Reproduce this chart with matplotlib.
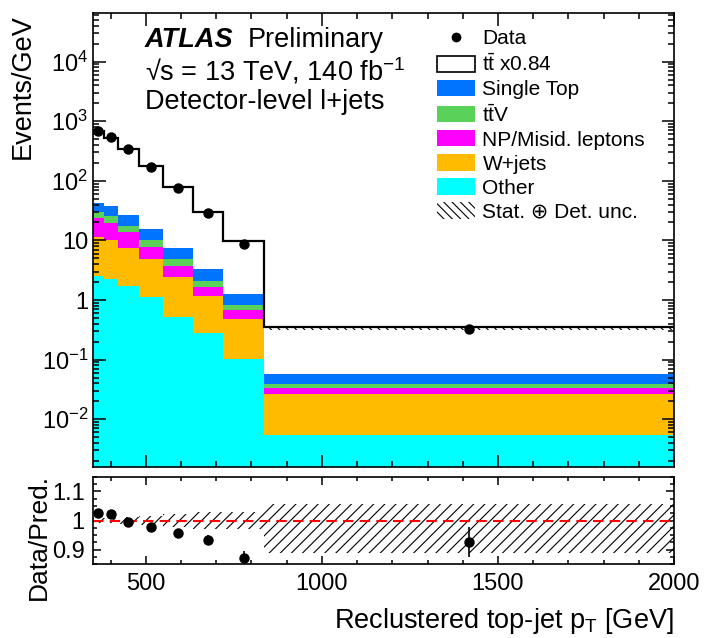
import matplotlib
matplotlib.use("Agg")
import matplotlib.pyplot as plt
import numpy as np
from matplotlib.patches import Patch
from matplotlib.lines import Line2D
from matplotlib.ticker import FixedLocator, FixedFormatter, MultipleLocator, LogLocator, NullFormatter

plt.rcParams['font.family'] = ['Liberation Sans', 'DejaVu Sans']
plt.rcParams['mathtext.fontset'] = 'custom'
plt.rcParams['mathtext.rm'] = 'Liberation Sans'
plt.rcParams['mathtext.it'] = 'Liberation Sans:italic'
plt.rcParams['mathtext.bf'] = 'Liberation Sans:bold'
plt.rcParams['hatch.linewidth'] = 0.8

# bin edges in GeV
edges = np.array([350, 380, 420, 480, 550, 635, 720, 835, 2000])

# stacked components (Events/GeV)
other = np.array([2.52, 2.22, 1.71, 1.13, 0.52, 0.275, 0.104, 0.0054])
wjets = np.array([8.98, 7.88, 5.74, 3.68, 1.93, 0.885, 0.374, 0.0209])
npmis = np.array([12.0, 9.7, 6.55, 3.01, 1.26, 0.51, 0.198, 0.0065])
ttv = np.array([6.8, 5.8, 3.4, 2.28, 1.10, 0.43, 0.144, 0.0059])
stop = np.array([12.6, 12.1, 9.3, 5.2, 2.54, 1.17, 0.44, 0.0198])
ttbar = np.array([629, 488, 311, 162, 70.6, 27.2, 8.5, 0.29])

data = np.array([685, 537, 338, 173, 74.8, 28.5, 8.6, 0.324])

# ratio panel
ratio = np.array([1.027, 1.022, 0.995, 0.978, 0.958, 0.933, 0.870, 0.927])
ratio_err = np.array([0.004, 0.004, 0.004, 0.005, 0.008, 0.016, 0.025, 0.051])
unc_up = np.array([0.010, 0.010, 0.012, 0.014, 0.023, 0.028, 0.030, 0.057])
unc_down = np.array([0.010, 0.010, 0.012, 0.014, 0.023, 0.028, 0.030, 0.110])

c_other = '#00FFFF'
c_wjets = '#FFBB00'
c_np = '#FF00FF'
c_ttv = '#5AD25A'
c_stop = '#0073FF'

centers = 0.5 * (edges[:-1] + edges[1:])

fig = plt.figure(figsize=(7.06, 6.38), dpi=100)
ax = fig.add_axes([93/706, 1-466.7/638, 581/706, 454/638])
rax = fig.add_axes([93/706, 1-564.3/638, 581/706, 87.6/638])

layers = [(other, c_other), (wjets, c_wjets), (npmis, c_np), (ttv, c_ttv), (stop, c_stop), (ttbar, 'white')]
base = np.full(len(other), 1e-5)
for vals, col in layers:
    top = base + vals
    ax.stairs(top, edges, baseline=base, fill=True, color=col)
    base = top
total = base
ax.stairs(total*(1+unc_up), edges, baseline=total*(1-unc_down), fill=True,
          facecolor='none', edgecolor='black', linewidth=0, hatch='\\\\\\\\')
ax.stairs(total, edges, baseline=None, color='black', linewidth=1.6)

data_err = data * ratio_err / ratio
ax.errorbar(centers, data, yerr=data_err, fmt='o', color='black', ms=6.5, elinewidth=1.2, capsize=0, zorder=5)

ax.set_yscale('log')
ax.set_xlim(350, 2000)
ax.set_ylim(1.6e-3, 6.6e4)
ax.yaxis.set_major_locator(FixedLocator([1e-2, 1e-1, 1, 10, 1e2, 1e3, 1e4]))
ax.yaxis.set_major_formatter(FixedFormatter([r'10$^{-2}$', r'10$^{-1}$', '1', '10', r'10$^{2}$', r'10$^{3}$', r'10$^{4}$']))
ax.yaxis.set_minor_locator(LogLocator(base=10, subs=np.arange(2, 10), numticks=30))
ax.yaxis.set_minor_formatter(NullFormatter())
ax.xaxis.set_major_locator(MultipleLocator(500))
ax.xaxis.set_minor_locator(MultipleLocator(100))
ax.tick_params(which='both', direction='in', top=True, right=True, labelbottom=False, labelsize=17, width=1.1)
ax.tick_params(which='major', length=9)
ax.tick_params(which='minor', length=4.5)
for s in ax.spines.values():
    s.set_linewidth(1.2)
fig.text(23/706, 1-14/638, 'Events/GeV', fontsize=19.5, rotation=90, ha='center', va='top')

fig.text(145/706, 1-40/638, 'ATLAS', fontsize=19.5, fontweight='bold', fontstyle='italic', va='center')
fig.text(248/706, 1-40/638, 'Preliminary', fontsize=19.5, va='center')
fig.text(145/706, 1-71/638, '\u221as = 13 TeV, 140 fb$^{-1}$', fontsize=19.5, va='center')
fig.text(145/706, 1-102/638, 'Detector-level l+jets', fontsize=19.5, va='center')

handles = [
    Line2D([], [], marker='o', color='black', linestyle='none', ms=6),
    Patch(facecolor='white', edgecolor='black', linewidth=1.2),
    Patch(facecolor=c_stop),
    Patch(facecolor=c_ttv),
    Patch(facecolor=c_np),
    Patch(facecolor=c_wjets),
    Patch(facecolor=c_other),
    Patch(facecolor='none', edgecolor='black', linewidth=0, hatch='\\\\\\\\'),
]
labels = ['Data', r'$\mathrm{t\bar{t}}$ x0.84', 'Single Top', r'$\mathrm{t\bar{t}}$V',
          'NP/Misid. leptons', 'W+jets', 'Other', 'Stat. \u2295 Det. unc.']
fig.legend(handles, labels, loc='upper left', bbox_to_anchor=(437/706, 1-29/638), frameon=False,
           fontsize=15, handlelength=1.83, handleheight=0.82, handletextpad=0.35,
           labelspacing=0.225, borderpad=0, borderaxespad=0)

# ratio panel
rax.stairs(1+unc_up, edges, baseline=1-unc_down, fill=True, facecolor='none',
           edgecolor='black', linewidth=0, hatch='///')
rax.axhline(1.0, color='red', linestyle=(0, (5, 3)), linewidth=1.5)
rax.errorbar(centers, ratio, yerr=ratio_err, fmt='o', color='black', ms=6.5, elinewidth=1.2, capsize=0, zorder=5)
rax.set_xlim(350, 2000)
rax.set_ylim(0.85, 1.15)
rax.yaxis.set_major_locator(FixedLocator([0.9, 1.0, 1.1]))
rax.yaxis.set_major_formatter(FixedFormatter(['0.9', '1', '1.1']))
rax.yaxis.set_minor_locator(MultipleLocator(0.025))
rax.xaxis.set_major_locator(MultipleLocator(500))
rax.xaxis.set_minor_locator(MultipleLocator(100))
rax.tick_params(which='both', direction='in', top=True, right=True, labelsize=17, width=1.1)
rax.tick_params(which='major', length=6, pad=6)
rax.tick_params(which='minor', length=3)
for s in rax.spines.values():
    s.set_linewidth(1.2)
fig.text(39/706, 1-537/638, 'Data/Pred.', fontsize=19, rotation=90, ha='center', va='center')
rax.set_xlabel(r'Reclustered top-jet p$_{\mathrm{T}}$ [GeV]', fontsize=19.5, loc='right', labelpad=8)

fig.savefig('out.png', dpi=100)
